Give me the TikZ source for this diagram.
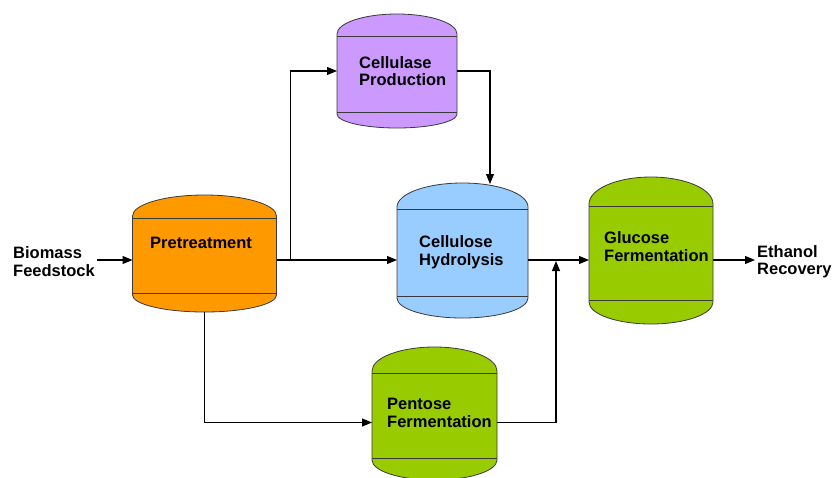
\documentclass[tikz,border=0pt]{standalone}
\usepackage{fontspec}
\setmainfont{Liberation Sans}
\usetikzlibrary{arrows.meta,calc}

\definecolor{preorange}{HTML}{FF9900}
\definecolor{enzpurple}{HTML}{CC99FF}
\definecolor{hydblue}{HTML}{99CCFF}
\definecolor{fermgreen}{HTML}{99CC00}
\definecolor{tankline}{HTML}{3A3A3A}

\tikzset{
  tankedge/.style={draw=tankline, line width=0.8pt},
  lbl/.style={font=\fontsize{16.5}{17.5}\selectfont\bfseries, align=left, inner sep=2pt, anchor=west},
  flow/.style={draw=black, line width=1.1pt, -{Triangle[length=10pt,width=8pt]}},
}

% tank: name, left, right, top seam, bottom seam, dome top, dome bottom, fill colour
\newcommand{\tankdraw}[8]{%
  \pgfmathsetmacro{\tkrx}{(#3-#2)/2}%
  \pgfmathsetmacro{\tkrt}{#4-2-#6}%
  \pgfmathsetmacro{\tkrb}{#7-#5-2}%
  \path[fill=#8, tankedge]
    (#2,#5+2) -- (#2,#4-2)
    arc[start angle=180, end angle=0, x radius=\tkrx pt, y radius=\tkrt pt]
    -- (#3,#5+2)
    arc[start angle=0, end angle=-180, x radius=\tkrx pt, y radius=\tkrb pt]
    -- cycle;
  \draw[tankedge] (#2,#4) -- (#3,#4) (#2,#5) -- (#3,#5);
  \pgfmathsetmacro{\tkw}{#3-#2}%
  \pgfmathsetmacro{\tkh}{#7-#6}%
  \node[inner sep=0pt, outer sep=0pt, minimum width=\tkw pt, minimum height=\tkh pt]
    (#1) at ({(#2+#3)/2},{(#6+#7)/2}) {};
}

\begin{document}
\begin{tikzpicture}[x=1pt, y=-1pt]
  \useasboundingbox (0,0) rectangle (832,477);

  % vessels
  \tankdraw{pre}{132.5}{276.5}{218}{293}{195}{312}{preorange}
  \tankdraw{cel}{337}{457}{36}{112}{14}{128}{enzpurple}
  \tankdraw{hyd}{397}{528}{209}{296}{183}{318}{hydblue}
  \tankdraw{glu}{589}{713}{206}{300}{177}{324}{fermgreen}
  \tankdraw{pen}{372}{497}{373}{458}{347}{480}{fermgreen}

  % labels
  \node[lbl] (pre-t) at (148,243) {Pretreatment};
  \node[lbl] (cel-t) at (357,71) {Cellulase\\Production};
  \node[lbl] (hyd-t) at (417,252) {Cellulose\\Hydrolysis};
  \node[lbl] (glu-t) at (602,246.5) {Glucose\\Fermentation};
  \node[lbl] (pen-t) at (385,413) {Pentose\\Fermentation};
  \node[lbl] (feed) at (11,261.5) {Biomass\\Feedstock};
  \node[lbl] (eth) at (755,261.5) {Ethanol\\Recovery};

  % reference rows and junctions
  \coordinate (main) at (0,260);
  \coordinate (penrow) at (0,422.5);
  \coordinate (split) at (290.5,260);
  \coordinate (hydin) at (490,184);
  \coordinate (merge) at (556,261);

  % connectors
  \draw[flow] (feed.east |- main) -- (pre.west |- main);
  \draw[flow] (pre.east |- main) -- (hyd.west |- main);
  \draw[flow] (split) |- (cel.west);
  \draw[flow] (cel.east) -| (hydin);
  \draw[flow] (hyd.east |- main) -- (glu.west |- main);
  \draw[flow] (pre.south) |- (pen.west |- penrow);
  \draw[flow] (pen.east |- penrow) -| (merge);
  \draw[flow] (glu.east |- main) -- (eth.west |- main);
\end{tikzpicture}
\end{document}
